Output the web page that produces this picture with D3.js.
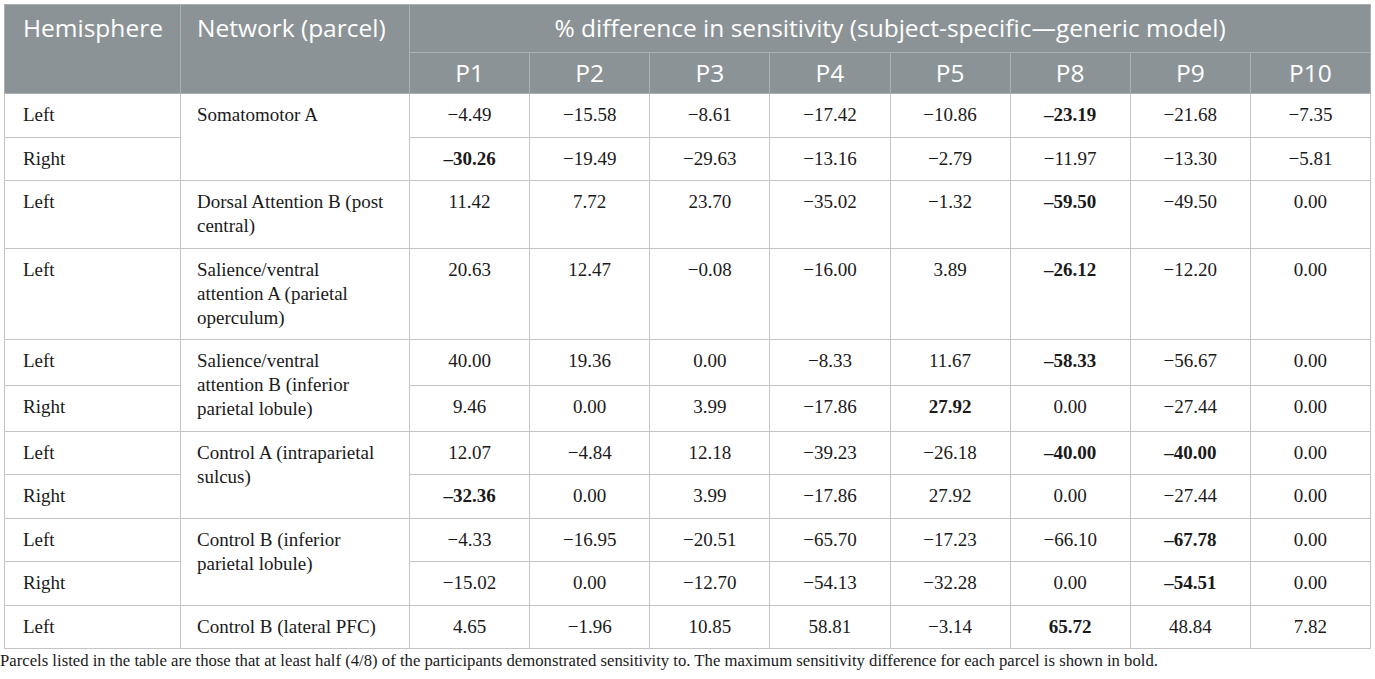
<!DOCTYPE html>
<html>
<head>
<meta charset="utf-8">
<script src="https://cdn.jsdelivr.net/npm/d3@7"></script>
<style>
  body { margin: 0; background: #fff; }
  #wrap { position: absolute; left: 4px; top: 4px; }
  table { border-collapse: collapse; table-layout: fixed; width: 1366px; }
  th {
    background: #8c9396; color: #fff; font-family: "Open Sans", sans-serif;
    font-weight: 400; font-size: 24.5px; line-height: 28px;
    border: 1px solid #aab0b3; vertical-align: top; white-space: nowrap;
  }
  thead tr:first-child th { padding: 9px 16px 10px 16px; }
  thead tr:nth-child(2) th { padding: 6px 16px 6px 16px; text-align: center; }
  td {
    font-family: "Liberation Serif", "Times New Roman", serif; font-size: 19px;
    line-height: 24px; color: #1a1a1a; border: 1px solid #c4c4c4;
    padding: 9px 16px 9.5px 16px; vertical-align: top; white-space: nowrap;
  }
  td.num { text-align: center; padding-left: 4px; padding-right: 4px; }
  td.bold { font-weight: 700; }
  .note {
    position: absolute; left: 0; font-family: "Liberation Serif", "Times New Roman", serif;
    font-size: 16.7px; line-height: 22px; color: #1a1a1a; white-space: nowrap;
  }
</style>
</head>
<body>
<div id="wrap"></div>
<div class="note" id="note"></div>
<script>
// colonnes et lignes du tableau
const participants = ["P1", "P2", "P3", "P4", "P5", "P8", "P9", "P10"];
const hemispheres = ["Left", "Right", "Left", "Left", "Left", "Right", "Left", "Right", "Left", "Right", "Left"];
const networks = [
  ["Somatomotor A"],
  ["Dorsal Attention B (post", "central)"],
  ["Salience/ventral", "attention A (parietal", "operculum)"],
  ["Salience/ventral", "attention B (inferior", "parietal lobule)"],
  ["Control A (intraparietal", "sulcus)"],
  ["Control B (inferior", "parietal lobule)"],
  ["Control B (lateral PFC)"]
];
const networkSpans = [2, 1, 1, 2, 2, 2, 1];

// % difference par ligne (P1..P10)
const values = [
  [-4.49, -15.58, -8.61, -17.42, -10.86, -23.19, -21.68, -7.35],
  [-30.26, -19.49, -29.63, -13.16, -2.79, -11.97, -13.30, -5.81],
  [11.42, 7.72, 23.70, -35.02, -1.32, -59.50, -49.50, 0.00],
  [20.63, 12.47, -0.08, -16.00, 3.89, -26.12, -12.20, 0.00],
  [40.00, 19.36, 0.00, -8.33, 11.67, -58.33, -56.67, 0.00],
  [9.46, 0.00, 3.99, -17.86, 27.92, 0.00, -27.44, 0.00],
  [12.07, -4.84, 12.18, -39.23, -26.18, -40.00, -40.00, 0.00],
  [-32.36, 0.00, 3.99, -17.86, 27.92, 0.00, -27.44, 0.00],
  [-4.33, -16.95, -20.51, -65.70, -17.23, -66.10, -67.78, 0.00],
  [-15.02, 0.00, -12.70, -54.13, -32.28, 0.00, -54.51, 0.00],
  [4.65, -1.96, 10.85, 58.81, -3.14, 65.72, 48.84, 7.82]
];
// indices des valeurs en gras (maximum par ligne)
const boldCells = [[5], [0], [5], [5], [5], [4], [5, 6], [0], [6], [6], [5]];

const headerTitle = "% difference in sensitivity (subject-specific\u2014generic model)";
const footnote = "Parcels listed in the table are those that at least half (4/8) of the participants demonstrated sensitivity to. The maximum sensitivity difference for each parcel is shown in bold.";

const fmt = d3.format(".2f");
function label(v, bold) {
  const s = fmt(Math.abs(v));
  if (v < 0) return (bold ? "\u2013" : "\u2212") + s;
  return s;
}

// largeurs des colonnes
const colWidths = [176, 229].concat(participants.map(() => 961 / participants.length));

const table = d3.select("#wrap").append("table");
table.append("colgroup").selectAll("col")
  .data(colWidths)
  .join("col")
  .style("width", d => d + "px");

const thead = table.append("thead");
const h1 = thead.append("tr");
h1.append("th").attr("rowspan", 2).style("text-align", "left").style("padding-left", "18px").text("Hemisphere");
h1.append("th").attr("rowspan", 2).style("text-align", "left").text("Network (parcel)");
h1.append("th").attr("colspan", participants.length).style("text-align", "center").text(headerTitle);
thead.append("tr").selectAll("th")
  .data(participants)
  .join("th")
  .text(d => d);

// première ligne de chaque réseau
const starts = [];
let acc = 0;
networkSpans.forEach((s, i) => { starts[acc] = i; acc += s; });

const tbody = table.append("tbody");
const rows = tbody.selectAll("tr")
  .data(values)
  .join("tr");

rows.each(function (rowVals, r) {
  const tr = d3.select(this);
  tr.append("td").style("padding-left", "18px").text(hemispheres[r]);
  if (starts[r] !== undefined) {
    const n = starts[r];
    const td = tr.append("td").attr("rowspan", networkSpans[n]);
    td.selectAll("div")
      .data(networks[n])
      .join("div")
      .text(d => d);
  }
  tr.selectAll("td.num")
    .data(rowVals.map((v, c) => ({ v, bold: boldCells[r].includes(c) })))
    .join("td")
    .attr("class", d => "num" + (d.bold ? " bold" : ""))
    .text(d => label(d.v, d.bold));
});

const box = document.getElementById("wrap").getBoundingClientRect();
d3.select("#note").style("top", (box.bottom + 1) + "px").text(footnote);
</script>
</body>
</html>
